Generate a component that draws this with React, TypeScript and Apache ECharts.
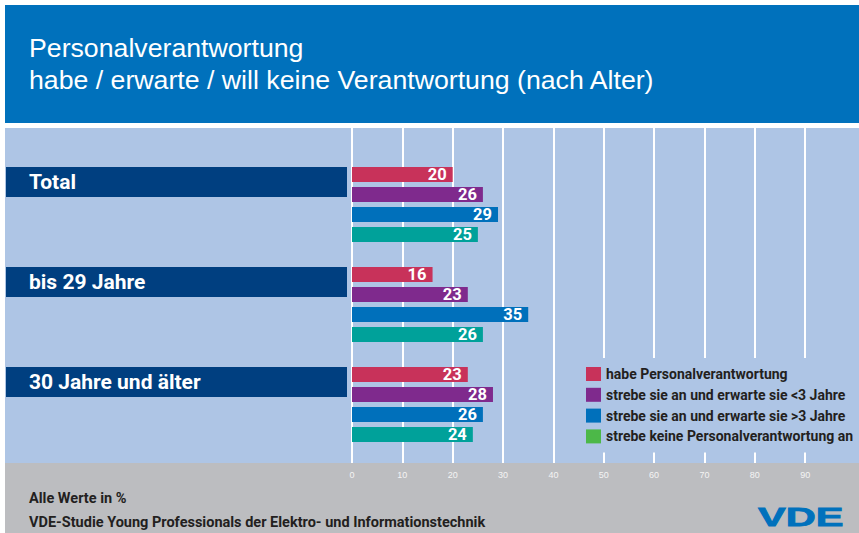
import React, { useEffect, useRef } from "react";
import * as echarts from "echarts";

const categories = ["Total", "bis 29 Jahre", "30 Jahre und älter"];
const seriesNames = [
  "habe Personalverantwortung",
  "strebe sie an und erwarte sie <3 Jahre",
  "strebe sie an und erwarte sie >3 Jahre",
  "strebe keine Personalverantwortung an",
];
const habe = [20, 16, 23];
const unter3 = [26, 23, 28];
const ueber3 = [29, 35, 26];
const keine = [25, 26, 24];
const seriesValues = [habe, unter3, ueber3, keine];
const seriesColors = ["#c8325a", "#7f2a8d", "#0070bb", "#00a19a"];
const legendColors = ["#c8325a", "#7f2a8d", "#0070bb", "#4cb848"];
const titleLines = [
  "Personalverantwortung",
  "habe / erwarte / will keine Verantwortung (nach Alter)",
];
const footerLines = [
  "Alle Werte in %",
  "VDE-Studie Young Professionals der Elektro- und Informationstechnik",
];

const NARROW = 'Roboto, "Liberation Sans", Arial, sans-serif';
const SANS = '"Liberation Sans", Arial, "DejaVu Sans", sans-serif';

export default function App() {
  const ref = useRef<HTMLDivElement>(null);
  useEffect(() => {
    document.body.style.margin = "0";
    const chart = echarts.init(ref.current!, null, { renderer: "svg" });
    const option: any = {
      animation: false,
      backgroundColor: "#ffffff",
      title: {
        text: titleLines.join("\n"),
        left: 29,
        top: 32,
        padding: 0,
        textStyle: {
          color: "#ffffff",
          fontSize: 26.7,
          fontWeight: "normal",
          fontFamily: SANS,
          lineHeight: 32,
        },
      },
      graphic: [
        { type: "rect", z: -10, shape: { x: 5, y: 5, width: 854, height: 118 }, style: { fill: "#0071bc" } },
        { type: "rect", z: -10, shape: { x: 5, y: 128, width: 854, height: 335 }, style: { fill: "#aec5e5" } },
        { type: "rect", z: -10, shape: { x: 5, y: 463, width: 854, height: 70 }, style: { fill: "#bcbdc0" } },
        {
          type: "text", z: 10, x: 29, y: 498,
          style: { text: footerLines[0], fill: "#231f20", font: `bold 14.5px ${NARROW}`, textVerticalAlign: "middle" },
        },
        {
          type: "text", z: 10, x: 29, y: 522,
          style: { text: footerLines[1], fill: "#231f20", font: `bold 14.5px ${NARROW}`, textVerticalAlign: "middle" },
        },
        {
          type: "text", z: 10, x: 758, y: 517, scaleX: 1.6,
          style: { text: "VDE", fill: "#0071bc", font: `900 26px ${SANS}`, textVerticalAlign: "middle", stroke: "#0071bc", lineWidth: 0.8 },
        },
      ],
      grid: [
        { left: 352, right: 3.5, top: 154.5, height: 300 },
        { left: 352, right: 3.5, top: 128, bottom: 70 },
        { left: 347, width: 100, top: 132, height: 300 },
      ],
      xAxis: [
        { type: "value", gridIndex: 0, min: 0, max: 100, show: false },
        {
          type: "value", gridIndex: 1, min: 0, max: 100, interval: 10,
          position: "bottom",
          axisLine: { show: false },
          axisTick: { show: false },
          axisLabel: { color: "#f4f4f4", fontSize: 9, margin: 7, fontFamily: SANS, showMaxLabel: false },
          splitLine: {
            show: true, showMaxLine: false,
            lineStyle: {
              color: ["#ffffff", "#ffffff", "#ffffff", "#ffffff", "#ffffff", "#ffffff", "#ffffff", "#ffffff", "#ffffff", "#ffffff", "rgba(0,0,0,0)"],
              width: 2,
            },
          },
        },
        { type: "value", gridIndex: 2, show: false },
      ],
      yAxis: [
        { type: "category", gridIndex: 0, data: categories, inverse: true, show: false },
        { type: "category", gridIndex: 1, data: categories, show: false },
        {
          type: "category", gridIndex: 2, data: categories, inverse: true,
          axisLine: { show: false },
          axisTick: { show: false },
          splitLine: { show: false },
          axisLabel: {
            margin: 341,
            align: "left",
            verticalAlign: "middle",
            width: 318,
            height: 30,
            lineHeight: 30,
            padding: [0, 0, 0, 23],
            backgroundColor: "#003f80",
            color: "#ffffff",
            fontSize: 21,
            fontWeight: "bold",
            fontFamily: NARROW,
          },
        },
      ],
      legend: {
        orient: "vertical",
        left: 580,
        top: 358,
        padding: [9, 10, 9, 6],
        backgroundColor: "#aec5e5",
        itemWidth: 15,
        itemHeight: 14,
        itemGap: 6.8,
        icon: "rect",
        textStyle: { color: "#231f20", fontSize: 14, fontWeight: "bold", fontFamily: NARROW },
        data: seriesNames.map((n, i) => ({ name: n, itemStyle: { color: legendColors[i] } })),
      },
      series: seriesNames.map((name, i) => ({
        name,
        type: "bar",
        xAxisIndex: 0,
        yAxisIndex: 0,
        data: seriesValues[i],
        barWidth: 15,
        barGap: "33.33%",
        itemStyle: { color: seriesColors[i] },
        label: {
          show: true,
          position: "insideRight",
          distance: 6,
          color: "#ffffff",
          fontSize: 16.5,
          fontWeight: "bold",
          fontFamily: NARROW,
        },
      })),
    };
    chart.setOption(option);
    return () => chart.dispose();
  }, []);
  return (
    <div
      ref={ref}
      style={{ position: "absolute", left: 0, top: 0, width: 859, height: 533 }}
    />
  );
}
